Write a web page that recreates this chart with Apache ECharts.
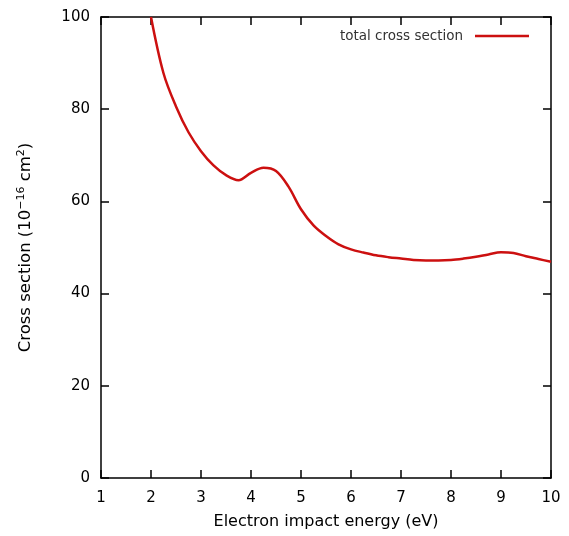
<!DOCTYPE html>
<html>
<head>
<meta charset="utf-8">
<script src="https://cdn.jsdelivr.net/npm/echarts@6/dist/echarts.min.js"></script>
<style>html,body{margin:0;padding:0;background:#fff;}#c{width:569px;height:536px;}</style>
</head>
<body>
<div id="c"></div>
<script>
const energy = [2.0, 2.25, 2.5, 2.75, 3.0, 3.25, 3.5, 3.75, 4.0, 4.25, 4.5, 4.75, 5.0, 5.25, 5.5, 5.75, 6.0, 6.25, 6.5, 6.75, 7.0, 7.25, 7.5, 7.75, 8.0, 8.25, 8.5, 8.75, 9.0, 9.25, 9.5, 9.75, 10.0];
const crossSection = [100.0, 87.8, 80.6, 75.0, 70.9, 67.8, 65.7, 64.6, 66.2, 67.3, 66.6, 63.2, 58.3, 54.8, 52.5, 50.7, 49.6, 48.9, 48.3, 47.9, 47.6, 47.3, 47.2, 47.2, 47.3, 47.6, 48.0, 48.5, 48.95, 48.8, 48.1, 47.5, 46.9];
const xTicks = [1, 2, 3, 4, 5, 6, 7, 8, 9, 10];
const yTicks = [0, 20, 40, 60, 80, 100];
const seriesName = 'total cross section';

const chart = echarts.init(document.getElementById('c'), null, {renderer: 'canvas'});
const font = '"DejaVu Sans", Verdana, sans-serif';
const axisCommon = {
  axisLine: {show: true, onZero: false, lineStyle: {color: '#000', width: 1.5}},
  axisTick: {show: true, inside: true, length: 8, lineStyle: {color: '#000', width: 1.5}},
  splitLine: {show: false}
};
const data = energy.map((e, i) => [e, crossSection[i]]);
chart.setOption({
  animation: false,
  backgroundColor: '#fff',
  grid: {left: 101, right: 18, top: 17, bottom: 58, show: false},
  legend: {
    data: [seriesName],
    right: 35, top: 24,
    align: 'right',
    itemWidth: 54, itemHeight: 14,
    icon: 'path://M0,5.75L54,5.75L54,8.25L0,8.25Z',
    textStyle: {fontFamily: font, fontSize: 13.5, color: '#333', padding: [0, 7, 0, 0]}
  },
  xAxis: [Object.assign({
    type: 'value', min: 1, max: 10, interval: 1, position: 'bottom',
    name: 'Electron impact energy (eV)', nameLocation: 'middle', nameGap: 36,
    nameTextStyle: {fontFamily: font, fontSize: 16, color: '#000'},
    axisLabel: {fontFamily: font, fontSize: 15, color: '#000', margin: 13,
      formatter: v => xTicks.includes(v) ? String(v) : ''}
  }, axisCommon), Object.assign({
    type: 'value', min: 1, max: 10, interval: 1, position: 'top',
    axisLabel: {show: false}
  }, axisCommon)],
  yAxis: [Object.assign({
    type: 'value', min: 0, max: 100, interval: 20, position: 'left',
    name: 'Cross section (10{sup|\u221216} cm{sup|2})', nameLocation: 'middle', nameGap: 65, nameRotate: 90,
    nameTextStyle: {fontFamily: font, fontSize: 16.5, color: '#000',
      rich: {sup: {fontFamily: font, fontSize: 11, color: '#000', verticalAlign: 'top', padding: [0, 0, 9, 0]}}},
    axisLabel: {fontFamily: font, fontSize: 15, color: '#000', margin: 11,
      formatter: v => yTicks.includes(v) ? String(v) : ''}
  }, axisCommon), Object.assign({
    type: 'value', min: 0, max: 100, interval: 20, position: 'right',
    axisLabel: {show: false}
  }, axisCommon)],
  series: [{
    name: seriesName,
    type: 'line',
    data: data,
    smooth: 0.35,
    showSymbol: false,
    clip: true,
    color: '#cc1010',
    lineStyle: {color: '#cc1010', width: 2.5}
  }]
});
</script>
</body>
</html>
